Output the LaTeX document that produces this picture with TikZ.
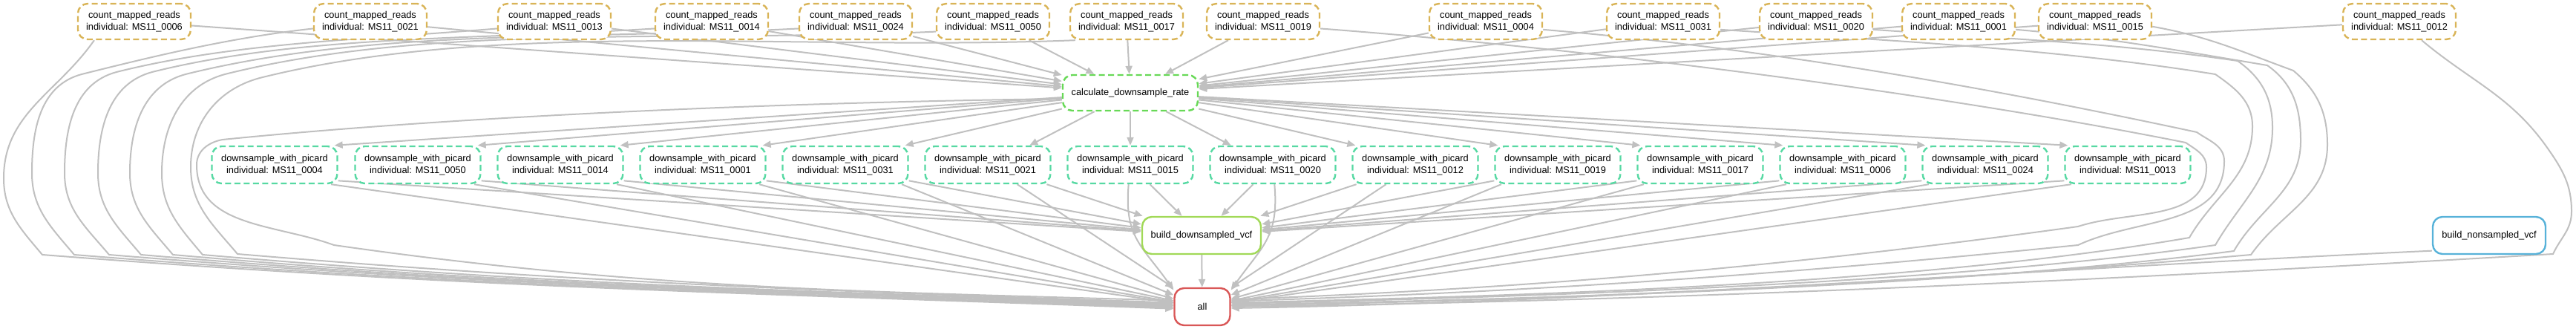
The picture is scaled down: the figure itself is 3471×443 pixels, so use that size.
\documentclass[tikz,border=0pt]{standalone}
\usepackage{fontspec}
\setmainfont{Liberation Sans}
\usetikzlibrary{arrows.meta}
\pgfdeclarelayer{bg}
\pgfsetlayers{bg,main}
\definecolor{ccmr}{RGB}{217,180,87}
\definecolor{cdsp}{RGB}{87,217,163}
\definecolor{ccalc}{RGB}{104,217,87}
\definecolor{cbds}{RGB}{161,217,87}
\definecolor{call}{RGB}{217,87,87}
\definecolor{cns}{RGB}{87,178,217}
\definecolor{cedge}{RGB}{192,192,192}
\begin{document}
\begin{tikzpicture}[x=0.5pt,y=-0.5pt,
  font=\fontsize{6.4}{8.35}\selectfont,
  box/.style={rectangle,rounded corners=6.5pt,line width=1.2pt,inner sep=0pt,align=center,fill=white},
  dbox/.style={box,dash pattern=on 4pt off 2.25pt},
  cmr/.style={dbox,draw=ccmr,minimum width=76pt,minimum height=24pt},
  dsp/.style={dbox,draw=cdsp,minimum width=84.5pt,minimum height=25pt},
  edge/.style={draw=cedge,line width=1pt,-{Triangle[length=5.5pt,width=4.5pt]}}]
\useasboundingbox (0,0) rectangle (3471,443);
% count_mapped_reads row
\node[cmr] (c0006) at (181,29) {count\_mapped\_reads\\individual: MS11\_0006};
\node[cmr] (c0021) at (499,29) {count\_mapped\_reads\\individual: MS11\_0021};
\node[cmr] (c0013) at (747,29) {count\_mapped\_reads\\individual: MS11\_0013};
\node[cmr] (c0014) at (959,29) {count\_mapped\_reads\\individual: MS11\_0014};
\node[cmr] (c0024) at (1153,29) {count\_mapped\_reads\\individual: MS11\_0024};
\node[cmr] (c0050) at (1338,29) {count\_mapped\_reads\\individual: MS11\_0050};
\node[cmr] (c0017) at (1518,29) {count\_mapped\_reads\\individual: MS11\_0017};
\node[cmr] (c0019) at (1702,29) {count\_mapped\_reads\\individual: MS11\_0019};
\node[cmr] (c0004) at (2002,29) {count\_mapped\_reads\\individual: MS11\_0004};
\node[cmr] (c0031) at (2241,29) {count\_mapped\_reads\\individual: MS11\_0031};
\node[cmr] (c0020) at (2447,29) {count\_mapped\_reads\\individual: MS11\_0020};
\node[cmr] (c0001) at (2639,29) {count\_mapped\_reads\\individual: MS11\_0001};
\node[cmr] (c0015) at (2823,29) {count\_mapped\_reads\\individual: MS11\_0015};
\node[cmr] (c0012) at (3233,29) {count\_mapped\_reads\\individual: MS11\_0012};
% calculate
\node[dbox,draw=ccalc,minimum width=91pt,minimum height=24pt] (calc) at (1523,125) {calculate\_downsample\_rate};
% downsample row
\node[dsp] (d0004) at (370,222) {downsample\_with\_picard\\individual: MS11\_0004};
\node[dsp] (d0050) at (563,222) {downsample\_with\_picard\\individual: MS11\_0050};
\node[dsp] (d0014) at (755,222) {downsample\_with\_picard\\individual: MS11\_0014};
\node[dsp] (d0001) at (947,222) {downsample\_with\_picard\\individual: MS11\_0001};
\node[dsp] (d0031) at (1139,222) {downsample\_with\_picard\\individual: MS11\_0031};
\node[dsp] (d0021) at (1331,222) {downsample\_with\_picard\\individual: MS11\_0021};
\node[dsp] (d0015) at (1523,222) {downsample\_with\_picard\\individual: MS11\_0015};
\node[dsp] (d0020) at (1715,222) {downsample\_with\_picard\\individual: MS11\_0020};
\node[dsp] (d0012) at (1907,222) {downsample\_with\_picard\\individual: MS11\_0012};
\node[dsp] (d0019) at (2099,222) {downsample\_with\_picard\\individual: MS11\_0019};
\node[dsp] (d0017) at (2291,222) {downsample\_with\_picard\\individual: MS11\_0017};
\node[dsp] (d0006) at (2483,222) {downsample\_with\_picard\\individual: MS11\_0006};
\node[dsp] (d0024) at (2675,222) {downsample\_with\_picard\\individual: MS11\_0024};
\node[dsp] (d0013) at (2867,222) {downsample\_with\_picard\\individual: MS11\_0013};
% lower nodes
\node[box,draw=cbds,minimum width=80pt,minimum height=25pt] (bds) at (1619,317) {build\_downsampled\_vcf};
\node[box,draw=call,minimum width=37.5pt,minimum height=25pt] (all) at (1620,413) {all};
\node[box,draw=cns,minimum width=76pt,minimum height=25pt] (ns) at (3354,317) {build\_nonsampled\_vcf};
% waypoints left
\coordinate (W1) at (5,240);   \coordinate (B1) at (57,343);
\coordinate (T2) at (110,100); \coordinate (W2) at (43,233);  \coordinate (B2) at (100,343);
\coordinate (T3) at (157,97);  \coordinate (W3) at (87,233);  \coordinate (B3) at (147,343);
\coordinate (T4) at (205,97);  \coordinate (W4) at (132,233); \coordinate (B4) at (190,343);
\coordinate (T5) at (250,100); \coordinate (W5) at (175,233); \coordinate (B5) at (233,343);
\coordinate (T6) at (303,100); \coordinate (W6) at (218,233); \coordinate (B6) at (273,343);
\coordinate (T7) at (350,105); \coordinate (W7) at (257,225); \coordinate (B7) at (320,342);
\coordinate (T8) at (300,188); \coordinate (W8) at (265,222); \coordinate (B8) at (450,330);
% waypoints right
\coordinate (Ta) at (2945,192); \coordinate (Wa) at (2973,225); \coordinate (Ba) at (2800,305);
\coordinate (Tb) at (2960,178); \coordinate (Wb) at (2997,217); \coordinate (Bb) at (2800,330);
\coordinate (Tc) at (2985,100); \coordinate (Wc) at (3035,170); \coordinate (Bc) at (2950,320);
\coordinate (Td) at (3015,82);  \coordinate (Wd) at (3062,172); \coordinate (Bd) at (2985,330);
\coordinate (Te) at (3055,88);  \coordinate (We) at (3100,190); \coordinate (Be) at (3010,338);
\coordinate (Tf) at (3090,95);  \coordinate (Wf) at (3136,195); \coordinate (Bf) at (3033,343);
\coordinate (Tg) at (3433,200); \coordinate (Wg) at (3465,285); \coordinate (Bg) at (3440,342);
\begin{pgfonlayer}{bg}
% count -> calculate
\foreach \n in {0006,0021,0013,0014,0024,0050,0017,0019,0004,0031,0020,0001,0015,0012}
  \draw[edge] (c\n) -- (calc);
% calculate -> downsample
\foreach \n in {0004,0050,0014,0001,0031}
  \draw[edge] (calc) -- (d\n.18);
\draw[edge] (calc) -- (d0021.25);
\draw[edge] (calc) -- (d0015);
\draw[edge] (calc) -- (d0020.155);
\foreach \n in {0012,0019,0017,0006,0024,0013}
  \draw[edge] (calc) -- (d\n.162);
% downsample -> build_downsampled_vcf and -> all
\foreach \n in {0004,0050,0014,0001,0031}{
  \draw[edge] (d\n.-14) -- (bds);
  \draw[edge] (d\n.-19) -- (all);}
\foreach \n in {0019,0017,0006,0024,0013}{
  \draw[edge] (d\n.194) -- (bds);
  \draw[edge] (d\n.199) -- (all);}
\foreach \n in {0021,0015,0020,0012}
  \draw[edge] (d\n) -- (bds);
\draw[edge] (d0021) -- (all);
\draw[edge] (d0012) -- (all);
\draw[edge] (d0015.265) to[out=-95,in=125,looseness=1.2] (all.150);
\draw[edge] (d0020.-85) to[out=-85,in=55,looseness=1.2] (all.30);
\draw[edge] (bds) -- (all);
% left curves to all
\draw[edge] (c0006.205) to[out=235,in=90] (W1) to[out=-90,in=130] (B1) .. controls +(580,45) and +(-530,-20) .. (all.184);
\draw[edge] (c0021.187) .. controls +(-110,12) and +(100,-25) .. (T2) to[out=195,in=90] (W2) to[out=-90,in=130] (B2) .. controls +(560,45) and +(-520,-20) .. (all.182);
\draw[edge] (c0013.187) .. controls +(-180,15) and +(160,-40) .. (T3) to[out=195,in=90] (W3) to[out=-90,in=130] (B3) .. controls +(545,45) and +(-500,-20) .. (all.180);
\draw[edge] (c0014.187) .. controls +(-240,15) and +(200,-50) .. (T4) to[out=195,in=90] (W4) to[out=-90,in=130] (B4) .. controls +(530,45) and +(-490,-18) .. (all.178);
\draw[edge] (c0024.187) .. controls +(-290,15) and +(250,-62) .. (T5) to[out=195,in=90] (W5) to[out=-90,in=130] (B5) .. controls +(510,45) and +(-470,-18) .. (all.176);
\draw[edge] (c0050.190) .. controls +(-330,15) and +(280,-70) .. (T6) to[out=195,in=90] (W6) to[out=-90,in=130] (B6) .. controls +(500,43) and +(-460,-16) .. (all.174);
\draw[edge] (c0017.200) .. controls +(-380,15) and +(320,-80) .. (T7) to[out=195,in=90] (W7) to[out=-90,in=130] (B7) .. controls +(480,40) and +(-440,-15) .. (all.172);
\draw[edge] (calc.185) .. controls +(-400,5) and +(300,-30) .. (T8) to[out=190,in=90] (W8) to[out=-90,in=160] (B8) .. controls +(420,60) and +(-400,-12) .. (all.168);
% right curves to all
\draw[edge] (c0019.-7) .. controls +(400,30) and +(-300,-60) .. (Ta) to[out=-35,in=90] (Wa) to[out=-90,in=18] (Ba) .. controls +(-400,55) and +(400,-15) .. (all.14);
\draw[edge] (c0004.-8) .. controls +(300,25) and +(-280,-60) .. (Tb) to[out=-35,in=90] (Wb) to[out=-90,in=25] (Bb) .. controls +(-400,40) and +(400,-12) .. (all.11);
\draw[edge] (c0031.-8) .. controls +(230,15) and +(-220,-35) .. (Tc) to[out=-35,in=90] (Wc) to[out=-90,in=60] (Bc) .. controls +(-350,60) and +(450,-10) .. (all.8);
\draw[edge] (c0020.-8) .. controls +(170,12) and +(-170,-25) .. (Td) to[out=-35,in=90] (Wd) to[out=-90,in=60] (Bd) .. controls +(-350,50) and +(450,-10) .. (all.6);
\draw[edge] (c0001.-8) .. controls +(120,10) and +(-120,-20) .. (Te) to[out=-35,in=90] (We) to[out=-90,in=60] (Be) .. controls +(-350,45) and +(480,-8) .. (all.4);
\draw[edge] (c0015.-5) to[out=-10,in=160] (Tf) to[out=-40,in=90] (Wf) to[out=-90,in=55] (Bf) .. controls +(-400,35) and +(480,-8) .. (all.2);
\draw[edge] (c0012.-40) to[out=-40,in=125] (Tg) to[out=-55,in=90] (Wg) to[out=-90,in=65] (Bg) .. controls +(-600,35) and +(600,-8) .. (all.0);
\draw[edge] (ns.195) .. controls +(-550,25) and +(550,-10) .. (all.-3);
\end{pgfonlayer}
\end{tikzpicture}
\end{document}
